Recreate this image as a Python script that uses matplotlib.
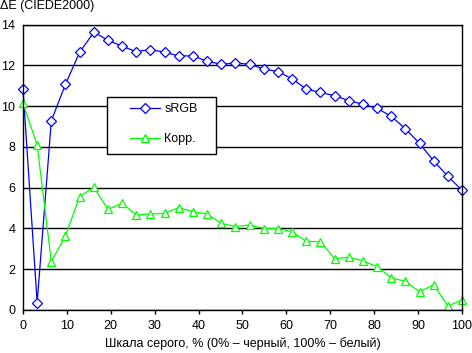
import numpy as np
import matplotlib
matplotlib.use("Agg")
import matplotlib.pyplot as plt
from matplotlib.patches import Rectangle

# grey scale steps, %
x = np.arange(32) * 100 / 31

srgb = [10.82, 0.36, 9.28, 11.07, 12.64, 13.62, 13.23, 12.93, 12.67, 12.77,
        12.64, 12.46, 12.46, 12.2, 12.05, 12.11, 12.05, 11.82, 11.69, 11.34,
        10.83, 10.67, 10.51, 10.27, 10.09, 9.89, 9.5, 8.89, 8.17, 7.31,
        6.56, 5.87]
korr = [10.14, 8.09, 2.37, 3.64, 5.56, 6.02, 4.94, 5.23, 4.66, 4.71,
        4.74, 5.02, 4.82, 4.71, 4.25, 4.09, 4.17, 3.99, 3.99, 3.84,
        3.36, 3.35, 2.52, 2.58, 2.42, 2.12, 1.58, 1.41, 0.9, 1.23,
        0.2, 0.49]

plt.rcParams['font.family'] = ['Liberation Sans', 'DejaVu Sans']
plt.rcParams['font.size'] = 9

W, H = 472, 353
fig = plt.figure(figsize=(W / 100, H / 100), dpi=100)
ax = fig.add_axes([23 / W, 1 - 310 / H, 439 / W, 285.5 / H])

ax.plot(x, srgb, color='#0000ff', lw=0.9, marker='D', ms=5.5,
        mfc='white', mec='#0000ff', mew=0.9, label='sRGB')
ax.plot(x, korr, color='#00ff00', lw=0.9, marker='^', ms=6,
        mfc='white', mec='#00ff00', mew=0.9, label='Корр.')

ax.set_xlim(0, 100)
ax.set_ylim(0, 14)
ax.set_xticks(range(0, 101, 10))
ax.set_yticks(range(0, 15, 2))
ax.yaxis.grid(True, color='black', lw=1)
ax.set_axisbelow(True)
for s in ax.spines.values():
    s.set_color('black')
    s.set_linewidth(1)
ax.tick_params(axis='x', length=3, width=1, pad=4.5, color='black')
ax.tick_params(axis='y', length=0, pad=5.5)
for ln in ax.lines:
    ln.set_clip_on(False)

ax.set_xlabel('Шкала серого, % (0% – черный, 100% – белый)', labelpad=3)
fig.text(0.0, 1 - 0.5 / H, 'ΔE (CIEDE2000)', ha='left', va='top')

# legend box drawn by hand (wider side padding than legend allows)
box = Rectangle((107 / W, 1 - 154 / H), 109 / W, 57 / H,
                transform=fig.transFigure, facecolor='white',
                edgecolor='black', lw=1, zorder=5)
fig.patches.append(box)
leg = fig.legend(*ax.get_legend_handles_labels(), loc='upper left',
                 bbox_to_anchor=(130 / W, 1 - 103 / H),
                 frameon=False, borderpad=0, labelspacing=1.45,
                 handlelength=2.4, handletextpad=0.35, borderaxespad=0)
leg.set_zorder(6)

fig.savefig('out.png', dpi=100)
